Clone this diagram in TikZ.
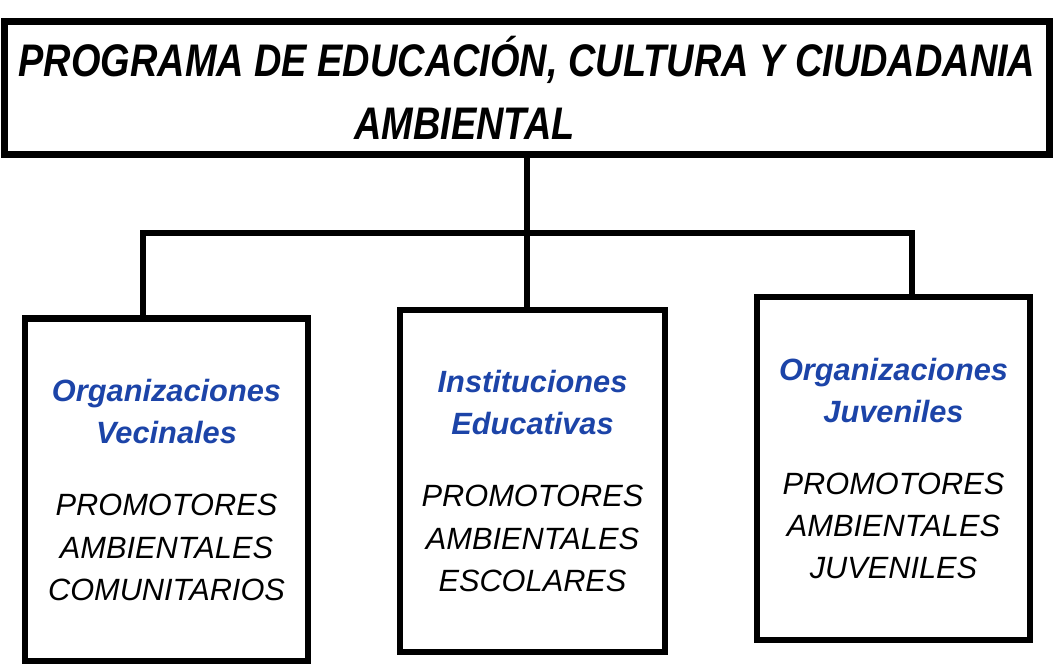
\documentclass[tikz,border=0pt]{standalone}
\usepackage{fontspec}
\setmainfont{Liberation Sans}
\newfontfamily\headfont[FakeStretch=0.83]{Liberation Sans}
\usetikzlibrary{calc}
\definecolor{orgblue}{RGB}{28,68,168}
\tikzstyle{header} = [
    rectangle,
    minimum width=20.9cm,
    minimum height=2.66cm,
    align=center,
    line width=3.5pt,
    draw=black,
    font=\headfont\fontsize{26}{36}\selectfont\bfseries\itshape
]
\tikzstyle{unit} = [
    rectangle,
    minimum height=6.86cm,
    align=center,
    line width=3.5pt,
    draw=black,
    font=\fontsize{17.5}{24}\selectfont\itshape
]
\tikzstyle{link} = [line width=3.5pt]
\newcommand{\grupo}[1]{{\color{orgblue}\bfseries #1}}

\begin{document}
\begin{tikzpicture}
    \useasboundingbox (0,0) rectangle (21.1,13.28);
    \node (programa) [header] at (10.54,11.52)
        {PROGRAMA DE EDUCACIÓN, CULTURA Y CIUDADANIA\\AMBIENTAL\hspace*{2.5cm}};
    \node (vecinales) [unit, minimum width=5.66cm] at (3.33,3.48)
        {\grupo{Organizaciones}\\\grupo{Vecinales}\\[0.6cm]
         PROMOTORES\\AMBIENTALES\\COMUNITARIOS};
    \node (educativas) [unit, minimum width=5.3cm, minimum height=6.84cm] at (10.65,3.66)
        {\grupo{Instituciones}\\\grupo{Educativas}\\[0.6cm]
         PROMOTORES\\AMBIENTALES\\ESCOLARES};
    \node (juveniles) [unit, minimum width=5.46cm] at (17.87,3.91)
        {\grupo{Organizaciones}\\\grupo{Juveniles}\\[0.6cm]
         PROMOTORES\\AMBIENTALES\\JUVENILES};

    \coordinate (barL) at (2.86,8.62);
    \coordinate (barR) at (18.24,8.62);

    \draw [link] (programa.south) -- (programa.south |- educativas.north);
    \draw [link] (vecinales.north -| barL) |- (barR) -- (barR |- juveniles.north);
\end{tikzpicture}
\end{document}
